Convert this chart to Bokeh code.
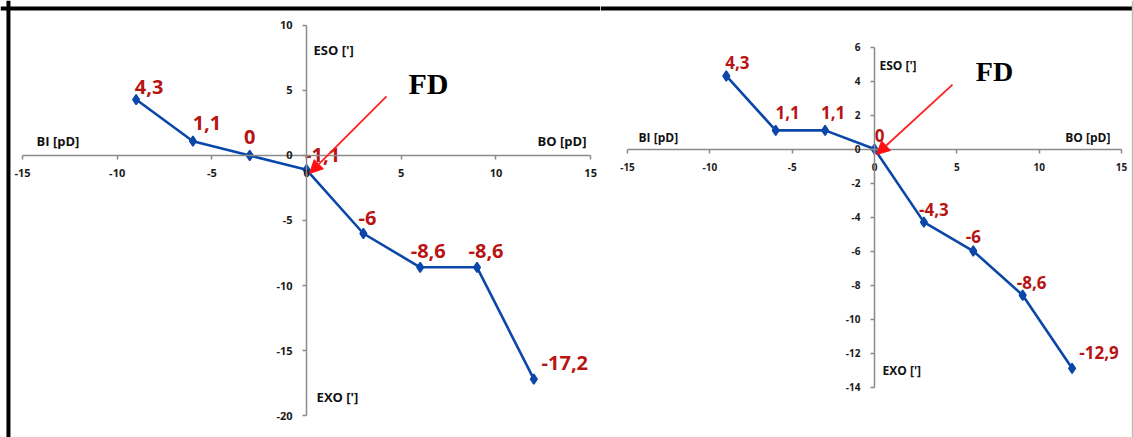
from bokeh.plotting import figure
from bokeh.models import (Range1d, LinearAxis, FixedTicker, Label, Arrow,
                          NormalHead, Span, ColumnDataSource)
from bokeh.layouts import row
from bokeh.embed import file_html
from bokeh.resources import INLINE
from bokeh.core.properties import value

# ---------------- data ----------------
left_x = [-9, -6, -3, 0, 3, 6, 9, 12]
left_y = [4.3, 1.1, 0, -1.1, -6, -8.6, -8.6, -17.2]
right_x = [-9, -6, -3, 0, 3, 6, 9, 12]
right_y = [4.3, 1.1, 1.1, 0, -4.3, -6, -8.6, -12.9]

x_ticks = [-15, -10, -5, 0, 5, 10, 15]
left_y_ticks = [-20, -15, -10, -5, 0, 5, 10]
right_y_ticks = [-14, -12, -10, -8, -6, -4, -2, 0, 2, 4, 6]

label_bi = "BI [pD]"
label_bo = "BO [pD]"
label_eso = "ESO [']"
label_exo = "EXO [']"
label_fd = "FD"

# label offsets in screen pixels (dx right, dy up) -- placement only
left_offsets = [(13, 13), (14, 18), (0, 18), (16, 15), (4, 15), (8, 16), (9, 16), (31, 16)]
right_offsets = [(11, 13), (12, 18), (8, 18), (5, 14), (10, 13), (0, 15), (9, 13), (27, 16)]

LINE = "#0B47A8"
RED = "#B81414"
AXIS = "#8A8A8A"
FONT = "Open Sans"


def fmt(v):
    return f"{v:g}".replace(".", ",")


def make_chart(xs, ys, yticks, offsets, xr, yr, width, height,
               lbl_size, tick_size, ax_size, ax_pos, fd_pos, arrow_pos, fd_size):
    p = figure(width=width, height=height, x_range=Range1d(*xr), y_range=Range1d(*yr),
               x_axis_type=None, y_axis_type=None, toolbar_location=None,
               output_backend="svg", min_border=0)
    p.grid.visible = False
    p.outline_line_color = None
    p.background_fill_color = "white"
    p.border_fill_color = "white"

    xa = LinearAxis(fixed_location=0, ticker=FixedTicker(ticks=x_ticks),
                    bounds=(x_ticks[0], x_ticks[-1]),
                    major_label_overrides={t: str(t) for t in x_ticks})
    ya = LinearAxis(fixed_location=0, ticker=FixedTicker(ticks=yticks),
                    bounds=(yticks[0], yticks[-1]),
                    major_label_overrides={t: str(t) for t in yticks})
    for a in (xa, ya):
        a.axis_line_color = AXIS
        a.axis_line_width = 1.5
        a.major_tick_line_color = AXIS
        a.major_tick_line_width = 1.5
        a.major_tick_out = 4
        a.major_tick_in = 0
        a.minor_tick_line_color = None
        a.major_label_text_font = FONT
        a.major_label_text_font_style = "bold"
        a.major_label_text_font_size = tick_size
        a.major_label_text_color = "#1A1A1A"
        a.major_label_standoff = 10
    p.add_layout(xa, "below")
    p.add_layout(ya, "left")

    src = ColumnDataSource(dict(
        x=xs, y=ys, t=[fmt(v) for v in ys],
        dx=[o[0] for o in offsets], dy=[-o[1] for o in offsets]))
    p.line("x", "y", source=src, line_color=LINE, line_width=2.6)
    p.scatter("x", "y", source=src, marker="diamond", size=10,
              fill_color=LINE, line_color=LINE, line_width=1.5)
    p.text("x", "y", text="t", source=src, x_offset="dx", y_offset="dy",
           text_font=value(FONT), text_font_style="bold", text_font_size=lbl_size,
           text_color=RED, text_align="center", text_baseline="middle")

    (bix, biy), (box, boy), (esx, esy), (exx, exy) = ax_pos
    common = dict(text_font=FONT, text_font_style="bold", text_font_size=ax_size,
                  text_color="#111111")
    p.add_layout(Label(x=bix, y=biy, text=label_bi, text_align="left",
                       text_baseline="bottom", **common))
    p.add_layout(Label(x=box, y=boy, text=label_bo, text_align="right",
                       text_baseline="bottom", **common))
    p.add_layout(Label(x=esx, y=esy, text=label_eso, text_align="left",
                       text_baseline="middle", **common))
    p.add_layout(Label(x=exx, y=exy, text=label_exo, text_align="left",
                       text_baseline="middle", **common))

    p.add_layout(Label(x=fd_pos[0], y=fd_pos[1], text=label_fd, text_align="center",
                       text_baseline="middle", text_font="Liberation Serif",
                       text_font_style="bold", text_font_size=fd_size,
                       text_color="black"))

    (sx, sy), (ex, ey) = arrow_pos
    p.add_layout(Arrow(x_start=sx, y_start=sy, x_end=ex, y_end=ey,
                       line_color="#FF2020", line_width=1.8,
                       end=NormalHead(size=13, fill_color="#FF1010",
                                      line_color="#FF1010")))
    return p


H = 437
left = make_chart(
    left_x, left_y, left_y_ticks, left_offsets,
    xr=(-16.16, 15.52), yr=(-21.69, 11.92), width=600, height=H,
    lbl_size="20px", tick_size="11px", ax_size="13px",
    ax_pos=((-14.26, 0.45), (14.78, 0.45), (0.37, 8.15), (0.53, -18.6)),
    fd_pos=(6.44, 5.54), arrow_pos=((4.22, 4.54), (0.16, -1.38)), fd_size="30px")

right = make_chart(
    right_x, right_y, right_y_ticks, right_offsets,
    xr=(-16.64, 15.73), yr=(-16.97, 8.74), width=533, height=H,
    lbl_size="17px", tick_size="10px", ax_size="12px",
    ax_pos=((-14.33, 0.2), (14.33, 0.2), (0.3, 4.94), (0.49, -13.03)),
    fd_pos=(7.29, 4.56), arrow_pos=((4.74, 3.79), (0.12, -0.32)), fd_size="28px")

# frame lines (top + left thick black, right thin grey)
left.add_layout(Span(location=11.3, dimension="width", line_color="black", line_width=4))
left.add_layout(Span(location=-15.74, dimension="height", line_color="black", line_width=4))
right.add_layout(Span(location=8.27, dimension="width", line_color="black", line_width=4))
right.add_layout(Span(location=15.67, dimension="height", line_color="#BBBBBB", line_width=1.5))

layout = row(left, right)
open("out.html", "w").write(file_html(layout, INLINE))
